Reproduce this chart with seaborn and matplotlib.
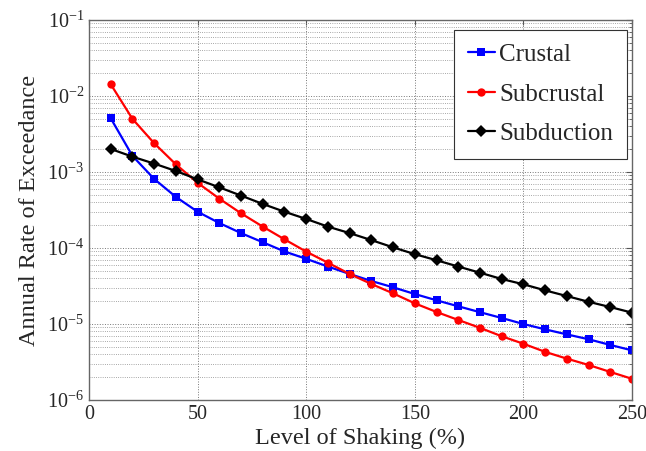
import numpy as np
import pandas as pd
import matplotlib
matplotlib.use('Agg')
import matplotlib.pyplot as plt
from matplotlib.ticker import LogLocator, NullFormatter
import seaborn as sns

shaking = [10, 20, 30, 40, 50, 60, 70, 80, 90, 100, 110, 120, 130,
           140, 150, 160, 170, 180, 190, 200, 210, 220, 230, 240, 250]

crustal = [5.1e-3, 1.63e-3, 8.1e-4, 4.7e-4, 3.0e-4, 2.13e-4, 1.57e-4, 1.19e-4, 9.0e-5,
           7.2e-5, 5.7e-5, 4.55e-5, 3.68e-5, 3.04e-5, 2.48e-5, 2.05e-5, 1.71e-5,
           1.43e-5, 1.2e-5, 1.0e-5, 8.5e-6, 7.3e-6, 6.3e-6, 5.3e-6, 4.5e-6]
subcrustal = [1.43e-2, 5.0e-3, 2.39e-3, 1.26e-3, 7.2e-4, 4.46e-4, 2.86e-4, 1.91e-4, 1.3e-4,
              8.96e-5, 6.4e-5, 4.55e-5, 3.36e-5, 2.53e-5, 1.87e-5, 1.44e-5, 1.13e-5,
              8.9e-6, 6.9e-6, 5.5e-6, 4.3e-6, 3.5e-6, 2.89e-6, 2.34e-6, 1.9e-6]
subduction = [2.01e-3, 1.59e-3, 1.29e-3, 1.03e-3, 8.0e-4, 6.28e-4, 4.89e-4, 3.8e-4, 3.0e-4,
              2.41e-4, 1.91e-4, 1.57e-4, 1.27e-4, 1.02e-4, 8.3e-5, 6.9e-5, 5.7e-5,
              4.73e-5, 3.91e-5, 3.33e-5, 2.77e-5, 2.33e-5, 1.96e-5, 1.67e-5, 1.41e-5]

sources = ['Crustal', 'Subcrustal', 'Subduction']

df = pd.DataFrame({'shaking': shaking, 'Crustal': crustal,
                   'Subcrustal': subcrustal, 'Subduction': subduction})
df = pd.melt(df, id_vars=['shaking'], var_name='source', value_name='rate')

sns.set_style('white')
plt.rcParams['font.family'] = ['Liberation Serif', 'DejaVu Serif']
plt.rcParams['mathtext.fontset'] = 'custom'
plt.rcParams['mathtext.rm'] = 'Liberation Serif'

fig = plt.figure(figsize=(6.46, 4.51), dpi=100)
ax = fig.add_axes([89/646, 51/451, 543/646, 380/451])

sns.lineplot(data=df, x='shaking', y='rate', hue='source', style='source',
             hue_order=sources, style_order=sources,
             palette={'Crustal': '#0000ff', 'Subcrustal': '#ff0000', 'Subduction': 'black'},
             markers={'Crustal': 's', 'Subcrustal': 'o', 'Subduction': 'D'},
             dashes=False, linewidth=1.6, markersize=6, markeredgewidth=0,
             ax=ax)

ax.set_yscale('log')
ax.set_xlim(0, 250)
ax.set_ylim(1e-6, 1e-1)
ax.set_xticks([0, 50, 100, 150, 200, 250])
ax.yaxis.set_major_locator(LogLocator(base=10, numticks=10))
ax.yaxis.set_minor_locator(LogLocator(base=10, subs=np.arange(2, 10), numticks=50))
ax.yaxis.set_minor_formatter(NullFormatter())

ax.grid(True, which='major', axis='both', linestyle=':', color='#777777', linewidth=0.7)
ax.grid(True, which='minor', axis='y', linestyle=':', color='#8a8a8a', linewidth=0.6)

ax.tick_params(axis='both', which='both', direction='in', top=True, right=True,
               labelsize=14.5, color='#555555')
ax.tick_params(axis='y', which='minor', length=2.5)
ax.tick_params(axis='y', which='major', length=4)
for s in ax.spines.values():
    s.set_color('#666666')
    s.set_linewidth(1.0)

ax.set_xlabel('Level of Shaking (%)', fontsize=17.5, labelpad=3)
ax.set_ylabel('Annual Rate of Exceedance', fontsize=17.5, labelpad=5)

leg = ax.legend(loc='upper right', bbox_to_anchor=(0.99, 0.974), fontsize=18,
                frameon=True, fancybox=False, edgecolor='#333333', framealpha=1,
                handlelength=1.1, handletextpad=0.15, labelspacing=0.68,
                borderpad=0.55, borderaxespad=0)
leg.get_frame().set_linewidth(0.8)

plt.savefig('out.png', dpi=100)
